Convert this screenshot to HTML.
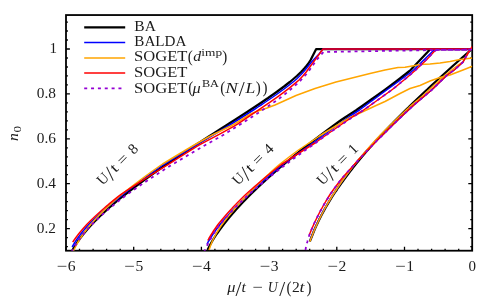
<!DOCTYPE html>
<html><head><meta charset="utf-8"><title>plot</title>
<style>html,body{margin:0;padding:0;background:#fff;}svg{display:block;}</style></head>
<body>
<svg width="500" height="300" viewBox="0 0 500 300">
<rect width="500" height="300" fill="#ffffff"/>
<defs><filter id="gs" x="0" y="0" width="500" height="300" filterUnits="userSpaceOnUse" color-interpolation-filters="sRGB"><feColorMatrix type="saturate" values="0"/></filter><clipPath id="c"><rect x="66.00" y="15.05" width="406.20" height="235.65"/></clipPath></defs>
<path d="M66.0,250.7v-3.9M79.5,250.7v-1.9M93.1,250.7v-1.9M106.6,250.7v-1.9M120.2,250.7v-1.9M133.7,250.7v-3.9M147.2,250.7v-1.9M160.8,250.7v-1.9M174.3,250.7v-1.9M187.9,250.7v-1.9M201.4,250.7v-3.9M214.9,250.7v-1.9M228.5,250.7v-1.9M242.0,250.7v-1.9M255.6,250.7v-1.9M269.1,250.7v-3.9M282.6,250.7v-1.9M296.2,250.7v-1.9M309.7,250.7v-1.9M323.3,250.7v-1.9M336.8,250.7v-3.9M350.3,250.7v-1.9M363.9,250.7v-1.9M377.4,250.7v-1.9M391.0,250.7v-1.9M404.5,250.7v-3.9M418.0,250.7v-1.9M431.6,250.7v-1.9M445.1,250.7v-1.9M458.7,250.7v-1.9M472.2,250.7v-3.9M66.0,246.6h1.9M472.2,246.6h-1.9M66.0,237.6h1.9M472.2,237.6h-1.9M66.0,228.6h3.9M472.2,228.6h-3.9M66.0,219.6h1.9M472.2,219.6h-1.9M66.0,210.6h1.9M472.2,210.6h-1.9M66.0,201.7h1.9M472.2,201.7h-1.9M66.0,192.7h1.9M472.2,192.7h-1.9M66.0,183.7h3.9M472.2,183.7h-3.9M66.0,174.7h1.9M472.2,174.7h-1.9M66.0,165.7h1.9M472.2,165.7h-1.9M66.0,156.8h1.9M472.2,156.8h-1.9M66.0,147.8h1.9M472.2,147.8h-1.9M66.0,138.8h3.9M472.2,138.8h-3.9M66.0,129.8h1.9M472.2,129.8h-1.9M66.0,120.8h1.9M472.2,120.8h-1.9M66.0,111.9h1.9M472.2,111.9h-1.9M66.0,102.9h1.9M472.2,102.9h-1.9M66.0,93.9h3.9M472.2,93.9h-3.9M66.0,84.9h1.9M472.2,84.9h-1.9M66.0,75.9h1.9M472.2,75.9h-1.9M66.0,67.0h1.9M472.2,67.0h-1.9M66.0,58.0h1.9M472.2,58.0h-1.9M66.0,49.0h3.9M472.2,49.0h-3.9M66.0,40.0h1.9M472.2,40.0h-1.9M66.0,31.0h1.9M472.2,31.0h-1.9M66.0,22.1h1.9M472.2,22.1h-1.9" stroke="#000" stroke-width="1.3" fill="none"/>
<rect x="66.00" y="15.05" width="406.20" height="235.65" fill="none" stroke="#000" stroke-width="1.8"/>
<g clip-path="url(#c)">
<path d="M71.6,252.0 L72.6,250.0 L73.7,248.0 L74.9,246.0 L76.2,244.0 L77.5,242.0 L78.9,240.0 L80.3,238.0 L81.9,236.0 L83.4,234.0 L85.1,232.0 L86.8,230.0 L88.5,228.0 L90.3,226.0 L92.2,224.0 L94.1,222.0 L96.1,220.0 L98.1,218.0 L100.2,216.0 L102.3,214.0 L104.5,212.0 L106.7,210.0 L108.9,208.0 L111.2,206.0 L113.5,204.0 L115.9,202.0 L118.3,200.0 L120.7,198.0 L123.2,196.0 L125.7,194.0 L128.3,192.0 L130.9,190.0 L133.5,188.0 L136.1,186.0 L138.8,184.0 L141.5,182.0 L144.2,180.0 L147.0,178.0 L149.8,176.0 L152.6,174.0 L155.4,172.0 L158.3,170.0 L161.2,168.0 L164.1,166.0 L167.0,164.0 L169.9,162.0 L172.9,160.0 L175.9,158.0 L178.9,156.0 L181.9,154.0 L184.9,152.0 L188.0,150.0 L191.0,148.0 L194.1,146.0 L197.2,144.0 L200.3,142.0 L203.4,140.0 L206.5,138.0 L209.6,136.0 L212.8,134.0 L215.9,132.0 L219.0,130.0 L222.1,128.0 L225.3,126.0 L228.4,124.0 L231.5,122.0 L234.7,120.0 L237.8,118.0 L240.9,116.0 L244.0,114.0 L247.1,112.0 L250.1,110.0 L253.2,108.0 L256.2,106.0 L259.2,104.0 L262.2,102.0 L265.1,100.0 L268.1,98.0 L270.9,96.0 L273.8,94.0 L276.6,92.0 L279.3,90.0 L282.0,88.0 L284.7,86.0 L287.2,84.0 L289.8,82.0 L292.2,80.0 L294.5,78.0 L296.8,76.0 L298.9,74.0 L301.0,72.0 L302.9,70.0 L304.7,68.0 L306.4,66.0 L308.0,64.0 L309.3,62.0 L310.6,60.0 L316.2,49.0 L472.2,49.0 M207.5,250.0 L208.5,248.0 L209.5,246.0 L210.6,244.0 L211.7,242.0 L212.9,240.0 L214.1,238.0 L215.4,236.0 L216.7,234.0 L218.1,232.0 L219.5,230.0 L221.0,228.0 L222.5,226.0 L224.0,224.0 L225.6,222.0 L227.2,220.0 L228.8,218.0 L230.5,216.0 L232.2,214.0 L234.0,212.0 L235.7,210.0 L237.5,208.0 L239.4,206.0 L241.2,204.0 L243.1,202.0 L245.1,200.0 L247.0,198.0 L249.0,196.0 L251.0,194.0 L253.1,192.0 L255.2,190.0 L257.2,188.0 L259.4,186.0 L261.5,184.0 L263.7,182.0 L265.9,180.0 L268.1,178.0 L270.3,176.0 L272.6,174.0 L274.9,172.0 L277.2,170.0 L279.5,168.0 L281.9,166.0 L284.3,164.0 L286.7,162.0 L289.1,160.0 L291.5,158.0 L294.0,156.0 L296.5,154.0 L299.0,152.0 L301.5,150.0 L304.0,148.0 L306.6,146.0 L309.2,144.0 L311.7,142.0 L314.3,140.0 L317.0,138.0 L319.6,136.0 L322.2,134.0 L324.9,132.0 L327.6,130.0 L330.3,128.0 L333.0,126.0 L335.7,124.0 L338.4,122.0 L341.2,120.0 L344.2,118.0 L347.3,116.0 L350.4,114.0 L353.5,112.0 L356.5,110.0 L359.3,108.0 L362.2,106.0 L365.0,104.0 L367.8,102.0 L370.6,100.0 L373.4,98.0 L376.3,96.0 L379.1,94.0 L381.9,92.0 L384.7,90.0 L387.4,88.0 L390.1,86.0 L392.7,84.0 L395.4,82.0 L398.0,80.0 L400.6,78.0 L403.1,76.0 L405.7,74.0 L408.2,72.0 L410.6,70.0 L430.0,49.5 L431.0,49.0 L472.2,49.0 M309.9,241.5 L310.6,239.5 L311.4,237.5 L312.2,235.5 L313.0,233.5 L313.8,231.5 L314.6,229.5 L315.5,227.5 L316.4,225.5 L317.4,223.5 L318.3,221.5 L319.3,219.5 L320.3,217.5 L321.3,215.5 L322.4,213.5 L323.5,211.5 L324.6,209.5 L325.7,207.5 L326.9,205.5 L328.1,203.5 L329.3,201.5 L330.5,199.5 L331.7,197.5 L333.0,195.5 L334.3,193.5 L335.6,191.5 L337.0,189.5 L338.3,187.5 L339.7,185.5 L341.1,183.5 L342.6,181.5 L344.0,179.5 L345.5,177.5 L347.0,175.5 L348.5,173.5 L350.0,171.5 L351.6,169.5 L353.1,167.5 L354.7,165.5 L356.3,163.5 L358.0,161.5 L359.6,159.5 L361.3,157.5 L363.0,155.5 L364.7,153.5 L366.4,151.5 L368.2,149.5 L369.9,147.5 L371.7,145.5 L373.5,143.5 L375.3,141.5 L377.1,139.5 L379.0,137.5 L380.8,135.5 L382.7,133.5 L384.6,131.5 L386.5,129.5 L388.4,127.5 L390.3,125.5 L392.3,123.5 L394.2,121.5 L396.2,119.5 L398.2,117.5 L400.2,115.5 L402.2,113.5 L404.2,111.5 L406.2,109.5 L408.3,107.5 L410.3,105.5 L412.4,103.5 L414.5,101.5 L416.6,99.5 L418.7,97.5 L420.8,95.5 L422.9,93.5 L425.0,91.5 L427.2,89.5 L429.3,87.5 L431.4,85.5 L433.6,83.5 L435.8,81.5 L437.9,79.5 L440.1,77.5 L442.3,75.5 L444.5,73.5 L446.7,71.5 L448.9,69.5 L451.1,67.5 L453.3,65.5 L455.6,63.5 L457.8,61.5 L460.1,59.5 L462.3,57.5 L464.6,55.5 L466.8,53.5 L469.1,51.5 L470.9,50.0 L471.6,49.0 L472.2,49.0" fill="none" stroke="#000000" stroke-width="2.25" stroke-linejoin="round"/>
<path d="M72.1,247.0 L73.3,245.0 L74.5,243.0 L75.8,241.0 L77.1,239.0 L78.5,237.0 L80.0,235.0 L81.5,233.0 L83.1,231.0 L84.8,229.0 L86.5,227.0 L88.3,225.0 L90.2,223.0 L92.2,221.0 L94.3,219.0 L96.4,217.0 L98.6,215.0 L100.8,213.0 L103.0,211.0 L105.3,209.0 L107.6,207.0 L110.0,205.0 L112.4,203.0 L114.9,201.0 L117.4,199.0 L119.9,197.0 L122.5,195.0 L125.0,193.0 L127.5,191.0 L130.1,189.0 L132.7,187.0 L135.3,185.0 L137.9,183.0 L140.6,181.0 L143.3,179.0 L146.1,177.0 L148.8,175.0 L151.6,173.0 L154.4,171.0 L157.3,169.0 L160.1,167.0 L163.0,165.0 L166.3,163.0 L169.5,161.0 L172.8,159.0 L176.1,157.0 L179.4,155.0 L182.8,153.0 L186.1,151.0 L189.5,149.0 L192.9,147.0 L196.3,145.0 L199.6,143.0 L203.0,141.0 L206.4,139.0 L209.8,137.0 L213.2,135.0 L216.5,133.0 L219.8,131.0 L223.2,129.0 L226.5,127.0 L229.8,125.0 L233.0,123.0 L236.2,121.0 L239.4,119.0 L242.5,117.0 L245.7,115.0 L248.8,113.0 L251.9,111.0 L255.0,109.0 L258.0,107.0 L261.1,105.0 L264.1,103.0 L267.0,101.0 L270.0,99.0 L272.9,97.0 L275.8,95.0 L278.6,93.0 L281.3,91.0 L284.1,89.0 L286.7,87.0 L289.3,85.0 L291.8,83.0 L294.3,81.0 L296.6,79.0 L298.6,77.0 L300.6,75.0 L302.5,73.0 L304.3,71.0 L305.1,70.0 L311.5,62.0 L319.5,53.5 L323.0,49.0 L472.2,49.0 M207.0,244.0 L208.1,242.0 L209.3,240.0 L210.5,238.0 L211.8,236.0 L213.1,234.0 L214.5,232.0 L215.9,230.0 L217.4,228.0 L218.9,226.0 L220.4,224.0 L222.1,222.0 L223.8,220.0 L225.6,218.0 L227.4,216.0 L229.2,214.0 L231.0,212.0 L232.9,210.0 L234.8,208.0 L236.8,206.0 L238.8,204.0 L240.8,202.0 L242.8,200.0 L244.9,198.0 L247.0,196.0 L249.1,194.0 L251.2,192.0 L253.3,190.0 L255.5,188.0 L257.7,186.0 L259.9,184.0 L262.1,182.0 L264.4,180.0 L266.7,178.0 L269.0,176.0 L271.3,174.0 L273.7,172.0 L276.1,170.0 L278.4,168.0 L280.9,166.0 L283.4,164.0 L286.2,162.0 L288.9,160.0 L291.7,158.0 L294.5,156.0 L297.3,154.0 L300.1,152.0 L302.9,150.0 L305.8,148.0 L308.6,146.0 L311.5,144.0 L314.4,142.0 L317.1,140.0 L319.8,138.0 L322.6,136.0 L325.3,134.0 L328.0,132.0 L330.7,130.0 L333.5,128.0 L336.2,126.0 L339.0,124.0 L341.8,122.0 L344.6,120.0 L347.4,118.0 L350.2,116.0 L353.3,114.0 L356.4,112.0 L359.5,110.0 L362.2,108.0 L364.9,106.0 L367.6,104.0 L370.3,102.0 L373.1,100.0 L375.8,98.0 L378.5,96.0 L381.2,94.0 L383.9,92.0 L386.6,90.0 L389.4,88.0 L392.2,86.0 L394.9,84.0 L397.7,82.0 L400.4,80.0 L403.1,78.0 L405.8,76.0 L408.5,74.0 L411.1,72.0 L413.6,70.0 L434.0,50.0 L436.5,49.0 L472.2,49.0 M310.3,240.0 L311.1,238.0 L311.8,236.0 L312.6,234.0 L313.4,232.0 L314.2,230.0 L315.0,228.0 L315.9,226.0 L316.8,224.0 L317.8,222.0 L318.7,220.0 L319.7,218.0 L320.7,216.0 L321.7,214.0 L322.8,212.0 L323.8,210.0 L325.0,208.0 L326.1,206.0 L327.2,204.0 L328.4,202.0 L329.6,200.0 L330.8,198.0 L332.1,196.0 L333.3,194.0 L334.6,192.0 L335.9,190.0 L337.3,188.0 L338.6,186.0 L340.0,184.0 L341.4,182.0 L342.8,180.0 L344.3,178.0 L345.7,176.0 L347.2,174.0 L348.7,172.0 L350.2,170.0 L351.8,168.0 L353.3,166.0 L355.0,164.0 L356.7,162.0 L358.4,160.0 L360.1,158.0 L361.9,156.0 L363.6,154.0 L365.4,152.0 L367.2,150.0 L369.2,148.0 L371.2,146.0 L373.2,144.0 L375.3,142.0 L377.4,140.0 L379.4,138.0 L381.5,136.0 L383.6,134.0 L385.6,132.0 L387.6,130.0 L389.6,128.0 L391.6,126.0 L393.7,124.0 L395.8,122.0 L397.9,120.0 L399.9,118.0 L402.1,116.0 L404.2,114.0 L406.3,112.0 L408.5,110.0 L410.6,108.0 L412.8,106.0 L415.0,104.0 L417.4,102.0 L419.7,100.0 L422.1,98.0 L424.5,96.0 L426.8,94.0 L429.2,92.0 L431.6,90.0 L433.7,88.0 L435.7,86.0 L437.8,84.0 L439.9,82.0 L441.9,80.0 L444.0,78.0 L446.1,76.0 L448.6,74.0 L451.4,72.0 L454.2,70.0 L456.4,68.0 L458.6,66.0 L460.8,64.0 L463.0,62.0 L466.3,56.0 L469.5,50.5 L471.5,49.0 L472.2,49.0" fill="none" stroke="#0000ff" stroke-width="1.5" stroke-linejoin="round"/>
<path d="M73.1,252.0 L73.9,250.0 L74.9,248.0 L75.9,246.0 L76.9,244.0 L78.1,242.0 L79.3,240.0 L80.5,238.0 L81.9,236.0 L83.3,234.0 L84.7,232.0 L86.2,230.0 L87.8,228.0 L89.4,226.0 L91.1,224.0 L92.9,222.0 L94.7,220.0 L96.5,218.0 L98.4,216.0 L100.4,214.0 L102.4,212.0 L104.4,210.0 L106.5,208.0 L108.6,206.0 L110.8,204.0 L113.0,202.0 L115.2,200.0 L117.5,198.0 L119.8,196.0 L122.2,194.0 L124.7,192.0 L127.2,190.0 L129.7,188.0 L132.3,186.0 L134.9,184.0 L137.6,182.0 L140.2,180.0 L142.9,178.0 L145.6,176.0 L148.4,174.0 L151.1,172.0 L153.9,170.0 L156.8,168.0 L159.6,166.0 L162.6,164.0 L165.9,162.0 L169.2,160.0 L172.5,158.0 L175.8,156.0 L179.1,154.0 L182.5,152.0 L185.8,150.0 L189.2,148.0 L192.6,146.0 L196.0,144.0 L199.6,142.0 L203.2,140.0 L206.8,138.0 L210.4,136.0 L214.3,134.0 L218.4,132.0 L222.5,130.0 L226.6,128.0 L230.8,126.0 L234.5,124.0 L237.7,122.0 L240.9,120.0 L244.1,118.0 L247.3,116.0 L250.5,114.0 L258.0,111.0 L267.0,108.0 L275.0,105.0 L285.0,100.5 L296.0,95.5 L315.0,88.5 L336.0,82.0 L350.0,78.5 L370.0,73.5 L385.0,70.0 L398.0,67.5 L405.0,67.3 L415.0,65.5 L420.0,64.5 L430.0,64.0 L440.0,63.0 L450.0,61.5 L460.0,59.5 L472.4,58.0 M209.0,250.0 L209.7,248.0 L210.4,246.0 L211.2,244.0 L212.0,242.0 L212.9,240.0 L213.9,238.0 L215.0,236.0 L216.1,234.0 L217.2,232.0 L218.4,230.0 L219.7,228.0 L221.0,226.0 L222.4,224.0 L223.9,222.0 L225.4,220.0 L227.0,218.0 L228.6,216.0 L230.3,214.0 L232.0,212.0 L233.7,210.0 L235.4,208.0 L237.2,206.0 L239.0,204.0 L240.9,202.0 L242.7,200.0 L244.6,198.0 L246.5,196.0 L248.5,194.0 L250.4,192.0 L252.3,190.0 L254.3,188.0 L256.3,186.0 L258.3,184.0 L260.4,182.0 L262.4,180.0 L264.5,178.0 L266.6,176.0 L268.8,174.0 L270.9,172.0 L273.1,170.0 L275.3,168.0 L277.6,166.0 L280.0,164.0 L282.6,162.0 L285.2,160.0 L287.8,158.0 L290.4,156.0 L293.1,154.0 L295.8,152.0 L298.5,150.0 L301.5,148.0 L304.5,146.0 L307.5,144.0 L310.6,142.0 L313.6,140.0 L316.6,138.0 L319.5,136.0 L322.6,134.0 L325.8,132.0 L329.2,130.0 L332.5,128.0 L335.8,126.0 L339.2,124.0 L342.5,122.0 L345.9,120.0 L349.3,118.0 L350.1,117.5 L366.5,110.0 L375.0,106.0 L385.0,101.5 L400.0,93.5 L410.0,88.5 L420.0,85.5 L430.0,81.0 L440.0,77.5 L450.0,75.0 L463.0,70.0 L472.4,66.3 M309.9,241.5 L310.6,239.5 L311.4,237.5 L312.2,235.5 L313.0,233.5 L313.8,231.5 L314.6,229.5 L315.5,227.5 L316.4,225.5 L317.3,223.5 L318.3,221.5 L319.2,219.5 L320.2,217.5 L321.2,215.5 L322.2,213.5 L323.3,211.5 L324.3,209.5 L325.4,207.5 L326.6,205.5 L327.7,203.5 L328.9,201.5 L330.1,199.5 L331.3,197.5 L332.5,195.5 L333.8,193.5 L335.1,191.5 L336.4,189.5 L337.7,187.5 L339.1,185.5 L340.4,183.5 L341.8,181.5 L343.2,179.5 L344.7,177.5 L346.1,175.5 L347.6,173.5 L349.1,171.5 L350.6,169.5 L352.2,167.5 L353.7,165.5 L355.3,163.5 L357.0,161.5 L358.6,159.5 L360.3,157.5 L362.0,155.5 L363.7,153.5 L365.4,151.5 L367.2,149.5 L368.9,147.5 L370.7,145.5 L372.5,143.5 L374.3,141.5 L376.1,139.5 L378.0,137.5 L379.8,135.5 L381.8,133.5 L383.8,131.5 L385.8,129.5 L387.9,127.5 L390.0,125.5 L392.0,123.5 L394.1,121.5 L396.2,119.5 L398.3,117.5 L400.4,115.5 L402.5,113.5 L404.6,111.5 L406.7,109.5 L408.9,107.5 L411.0,105.5 L413.4,103.5 L415.7,101.5 L418.2,99.5 L420.6,97.5 L423.0,95.5 L425.2,93.5 L427.3,91.5 L429.5,89.5 L431.6,87.5 L433.7,85.5 L435.9,83.5 L438.1,81.5 L440.2,79.5 L442.4,77.5 L444.6,75.5 L447.1,73.5 L449.7,71.5 L452.3,69.5 L454.8,67.5 L457.6,65.5 L460.7,63.5 L463.0,62.0 L466.3,56.0 L469.5,50.5 L471.5,49.0 L472.2,49.0" fill="none" stroke="#ffa500" stroke-width="1.5" stroke-linejoin="round"/>
<path d="M72.7,242.2 L74.0,240.2 L75.4,238.2 L76.9,236.2 L78.4,234.2 L80.0,232.2 L81.7,230.2 L83.4,228.2 L85.2,226.2 L87.0,224.2 L89.0,222.2 L91.0,220.2 L93.1,218.2 L95.2,216.2 L97.4,214.2 L99.6,212.2 L101.8,210.2 L104.1,208.2 L106.5,206.2 L108.8,204.2 L111.3,202.2 L113.7,200.2 L116.2,198.2 L118.7,196.2 L121.4,194.2 L124.4,192.2 L127.4,190.2 L130.4,188.2 L133.5,186.2 L136.6,184.2 L139.7,182.2 L142.8,180.2 L146.0,178.2 L149.2,176.2 L152.4,174.2 L155.6,172.2 L158.9,170.2 L162.2,168.2 L165.5,166.2 L168.8,164.2 L171.9,162.2 L175.0,160.2 L178.1,158.2 L181.3,156.2 L184.5,154.2 L187.7,152.2 L190.9,150.2 L194.1,148.2 L197.3,146.2 L200.8,144.2 L204.5,142.2 L208.3,140.2 L212.1,138.2 L215.9,136.2 L219.6,134.2 L223.3,132.2 L226.9,130.2 L230.5,128.2 L234.2,126.2 L237.5,124.2 L240.5,122.2 L243.5,120.2 L246.4,118.2 L249.4,116.2 L252.3,114.2 L255.3,112.2 L258.3,110.2 L261.2,108.2 L264.2,106.2 L267.1,104.2 L270.1,102.2 L272.9,100.2 L275.8,98.2 L278.6,96.2 L281.3,94.2 L284.0,92.2 L286.6,90.2 L289.2,88.2 L291.7,86.2 L294.1,84.2 L296.5,82.2 L298.8,80.2 L300.7,78.2 L302.6,76.2 L304.3,74.2 L306.0,72.2 L307.5,70.2 L307.6,70.0 L323.0,49.0 L472.2,49.0 M207.8,240.5 L208.9,238.5 L210.1,236.5 L211.3,234.5 L212.6,232.5 L213.8,230.5 L215.2,228.5 L216.6,226.5 L218.0,224.5 L219.6,222.5 L221.3,220.5 L223.0,218.5 L224.7,216.5 L226.4,214.5 L228.2,212.5 L230.0,210.5 L231.9,208.5 L233.7,206.5 L235.7,204.5 L237.6,202.5 L239.6,200.5 L241.6,198.5 L243.6,196.5 L245.7,194.5 L247.9,192.5 L250.1,190.5 L252.4,188.5 L254.6,186.5 L257.0,184.5 L259.3,182.5 L261.6,180.5 L264.0,178.5 L266.4,176.5 L268.9,174.5 L271.3,172.5 L273.8,170.5 L276.3,168.5 L278.8,166.5 L281.4,164.5 L284.5,162.5 L287.5,160.5 L290.6,158.5 L293.7,156.5 L296.8,154.5 L299.9,152.5 L303.1,150.5 L306.2,148.5 L309.4,146.5 L312.6,144.5 L315.7,142.5 L318.5,140.5 L321.3,138.5 L324.1,136.5 L326.9,134.5 L329.8,132.5 L332.6,130.5 L335.5,128.5 L338.4,126.5 L341.3,124.5 L344.2,122.5 L347.2,120.5 L350.1,118.5 L353.1,116.5 L356.4,114.5 L359.6,112.5 L362.9,110.5 L365.8,108.5 L368.6,106.5 L371.4,104.5 L374.2,102.5 L377.0,100.5 L379.8,98.5 L382.6,96.5 L385.4,94.5 L388.2,92.5 L391.0,90.5 L393.6,88.5 L396.1,86.5 L398.5,84.5 L400.9,82.5 L403.4,80.5 L405.8,78.5 L408.2,76.5 L410.5,74.5 L412.8,72.5 L415.1,70.5 L415.6,70.0 L426.3,60.0 L436.5,49.0 L472.2,49.0 M309.3,235.0 L310.1,233.0 L310.9,231.0 L311.7,229.0 L312.6,227.0 L313.5,225.0 L314.4,223.0 L315.3,221.0 L316.3,219.0 L317.3,217.0 L318.3,215.0 L319.3,213.0 L320.4,211.0 L321.5,209.0 L322.6,207.0 L323.7,205.0 L324.9,203.0 L326.0,201.0 L327.3,199.0 L328.5,197.0 L329.7,195.0 L331.1,193.0 L332.5,191.0 L333.9,189.0 L335.4,187.0 L336.9,185.0 L338.4,183.0 L339.9,181.0 L341.5,179.0 L343.2,177.0 L344.9,175.0 L346.7,173.0 L348.5,171.0 L350.3,169.0 L352.1,167.0 L353.9,165.0 L355.7,163.0 L357.5,161.0 L359.3,159.0 L361.2,157.0 L363.0,155.0 L364.9,153.0 L366.8,151.0 L368.7,149.0 L370.7,147.0 L372.6,145.0 L374.6,143.0 L376.5,141.0 L378.5,139.0 L380.6,137.0 L382.6,135.0 L384.6,133.0 L386.6,131.0 L388.6,129.0 L390.6,127.0 L392.7,125.0 L394.7,123.0 L396.8,121.0 L398.9,119.0 L401.0,117.0 L403.1,115.0 L405.2,113.0 L407.4,111.0 L409.5,109.0 L411.7,107.0 L413.9,105.0 L416.2,103.0 L418.5,101.0 L420.9,99.0 L423.3,97.0 L425.6,95.0 L428.0,93.0 L430.4,91.0 L432.6,89.0 L434.7,87.0 L436.8,85.0 L438.8,83.0 L440.9,81.0 L443.0,79.0 L445.1,77.0 L447.2,75.0 L450.0,73.0 L452.8,71.0 L455.3,69.0 L457.5,67.0 L459.7,65.0 L461.9,63.0 L463.0,62.0 L466.3,56.0 L469.5,50.5 L472.4,46.5" fill="none" stroke="#ff0000" stroke-width="1.5" stroke-linejoin="round"/>
<path d="M71.6,252.0 L72.6,250.0 L73.7,248.0 L74.9,246.0 L76.2,244.0 L77.5,242.0 L78.9,240.0 L80.3,238.0 L81.9,236.0 L83.4,234.0 L85.1,232.0 L86.8,230.0 L88.5,228.0 L90.3,226.0 L92.3,224.0 L94.3,222.0 L96.4,220.0 L98.6,218.0 L100.8,216.0 L103.0,214.0 L105.3,212.0 L107.7,210.0 L110.0,208.0 L112.5,206.0 L114.9,204.0 L117.4,202.0 L120.0,200.0 L122.5,198.0 L125.1,196.0 L127.9,194.0 L130.7,192.0 L133.5,190.0 L136.4,188.0 L139.3,186.0 L142.3,184.0 L145.2,182.0 L148.2,180.0 L151.2,178.0 L154.3,176.0 L157.4,174.0 L160.5,172.0 L163.6,170.0 L166.8,168.0 L169.9,166.0 L173.2,164.0 L176.5,162.0 L179.9,160.0 L183.2,158.0 L186.6,156.0 L190.0,154.0 L193.4,152.0 L196.8,150.0 L200.3,148.0 L203.7,146.0 L207.2,144.0 L210.8,142.0 L214.3,140.0 L217.9,138.0 L221.4,136.0 L224.8,134.0 L228.0,132.0 L231.3,130.0 L234.5,128.0 L237.7,126.0 L240.9,124.0 L244.0,122.0 L247.2,120.0 L250.3,118.0 L253.4,116.0 L256.5,114.0 L259.6,112.0 L262.5,110.0 L265.5,108.0 L268.5,106.0 L271.4,104.0 L274.3,102.0 L277.1,100.0 L279.9,98.0 L282.5,96.0 L285.1,94.0 L287.5,92.0 L289.9,90.0 L292.3,88.0 L294.6,86.0 L296.8,84.0 L298.9,82.0 L301.0,80.0 L302.9,78.0 L304.7,76.0 L306.5,74.0 L308.1,72.0 L309.6,70.0 L311.0,68.0 L311.6,67.0 L317.0,59.5 L323.5,52.0 L380.0,51.0 L436.0,50.0 L472.2,49.7 M204.1,252.0 L205.0,250.0 L205.9,248.0 L206.8,246.0 L207.8,244.0 L208.8,242.0 L209.9,240.0 L211.1,238.0 L212.3,236.0 L213.5,234.0 L214.8,232.0 L216.1,230.0 L217.5,228.0 L218.9,226.0 L220.4,224.0 L222.1,222.0 L223.8,220.0 L225.6,218.0 L227.4,216.0 L229.2,214.0 L231.1,212.0 L233.0,210.0 L234.9,208.0 L236.8,206.0 L238.8,204.0 L240.9,202.0 L242.9,200.0 L245.0,198.0 L247.1,196.0 L249.3,194.0 L251.6,192.0 L253.9,190.0 L256.3,188.0 L258.6,186.0 L261.0,184.0 L263.5,182.0 L265.9,180.0 L268.4,178.0 L270.9,176.0 L273.4,174.0 L276.0,172.0 L278.6,170.0 L281.2,168.0 L283.8,166.0 L286.4,164.0 L289.1,162.0 L291.8,160.0 L294.5,158.0 L297.3,156.0 L300.1,154.0 L302.8,152.0 L305.6,150.0 L308.5,148.0 L311.3,146.0 L314.2,144.0 L316.9,142.0 L319.6,140.0 L322.3,138.0 L325.1,136.0 L327.8,134.0 L330.7,132.0 L333.6,130.0 L336.6,128.0 L339.5,126.0 L342.4,124.0 L345.4,122.0 L348.4,120.0 L351.4,118.0 L354.5,116.0 L357.5,114.0 L360.6,112.0 L363.7,110.0 L366.5,108.0 L369.3,106.0 L372.1,104.0 L374.9,102.0 L377.7,100.0 L380.5,98.0 L383.3,96.0 L386.1,94.0 L388.9,92.0 L391.7,90.0 L394.2,88.0 L396.7,86.0 L399.1,84.0 L401.6,82.0 L404.0,80.0 L406.4,78.0 L408.7,76.0 L411.1,74.0 L413.4,72.0 L415.6,70.0 L436.0,50.0 L472.2,49.7 M305.5,250.0 L305.8,248.0 L306.3,246.0 L306.7,244.0 L307.3,242.0 L307.8,240.0 L308.4,238.0 L309.0,236.0 L309.7,234.0 L310.5,232.0 L311.3,230.0 L312.2,228.0 L313.0,226.0 L313.9,224.0 L314.8,222.0 L315.8,220.0 L316.8,218.0 L317.8,216.0 L318.8,214.0 L319.8,212.0 L320.9,210.0 L322.0,208.0 L323.1,206.0 L324.3,204.0 L325.5,202.0 L326.7,200.0 L327.9,198.0 L329.1,196.0 L330.4,194.0 L331.8,192.0 L333.2,190.0 L334.7,188.0 L336.1,186.0 L337.6,184.0 L339.1,182.0 L340.6,180.0 L342.3,178.0 L344.1,176.0 L345.8,174.0 L347.6,172.0 L349.4,170.0 L351.2,168.0 L353.0,166.0 L354.8,164.0 L356.6,162.0 L358.4,160.0 L360.3,158.0 L362.1,156.0 L364.0,154.0 L365.9,152.0 L367.8,150.0 L369.7,148.0 L371.6,146.0 L373.6,144.0 L375.6,142.0 L377.5,140.0 L379.5,138.0 L381.6,136.0 L383.6,134.0 L385.6,132.0 L387.6,130.0 L389.6,128.0 L391.6,126.0 L393.7,124.0 L395.8,122.0 L397.9,120.0 L399.9,118.0 L402.1,116.0 L404.2,114.0 L406.3,112.0 L408.5,110.0 L410.6,108.0 L412.8,106.0 L415.0,104.0 L417.4,102.0 L419.7,100.0 L422.1,98.0 L424.5,96.0 L426.8,94.0 L429.2,92.0 L431.6,90.0 L433.7,88.0 L435.7,86.0 L437.8,84.0 L439.9,82.0 L441.9,80.0 L444.0,78.0 L446.1,76.0 L448.6,74.0 L451.4,72.0 L454.2,70.0 L456.4,68.0 L458.6,66.0 L460.8,64.0 L463.0,62.0 L466.3,56.0 L468.5,52.3" fill="none" stroke="#9400d3" stroke-width="1.8" stroke-linejoin="round" stroke-dasharray="3 3.85"/>
</g>
<g font-family="Liberation Serif, serif" font-size="15" fill="#1c1c1c" filter="url(#gs)">
<text x="56.4" y="270.6" textLength="10.6" lengthAdjust="spacingAndGlyphs">−</text>
<text x="67.7" y="270.6" textLength="7.8" lengthAdjust="spacingAndGlyphs">6</text>
<text x="124.1" y="270.6" textLength="10.6" lengthAdjust="spacingAndGlyphs">−</text>
<text x="135.4" y="270.6" textLength="7.8" lengthAdjust="spacingAndGlyphs">5</text>
<text x="191.8" y="270.6" textLength="10.6" lengthAdjust="spacingAndGlyphs">−</text>
<text x="203.1" y="270.6" textLength="7.8" lengthAdjust="spacingAndGlyphs">4</text>
<text x="259.5" y="270.6" textLength="10.6" lengthAdjust="spacingAndGlyphs">−</text>
<text x="270.8" y="270.6" textLength="7.8" lengthAdjust="spacingAndGlyphs">3</text>
<text x="327.2" y="270.6" textLength="10.6" lengthAdjust="spacingAndGlyphs">−</text>
<text x="338.5" y="270.6" textLength="7.8" lengthAdjust="spacingAndGlyphs">2</text>
<text x="394.9" y="270.6" textLength="10.6" lengthAdjust="spacingAndGlyphs">−</text>
<text x="406.2" y="270.6" textLength="7.8" lengthAdjust="spacingAndGlyphs">1</text>
<text x="472.2" y="270.6" text-anchor="middle">0</text>
<text x="36.8" y="232.9" textLength="19.2" lengthAdjust="spacingAndGlyphs">0.2</text>
<text x="36.8" y="188.0" textLength="19.2" lengthAdjust="spacingAndGlyphs">0.4</text>
<text x="36.8" y="143.1" textLength="19.2" lengthAdjust="spacingAndGlyphs">0.6</text>
<text x="36.8" y="98.2" textLength="19.2" lengthAdjust="spacingAndGlyphs">0.8</text>
<text x="49.6" y="53.3">1</text>
<text x="134.3" y="30.9" textLength="21.6" lengthAdjust="spacingAndGlyphs">BA</text>
<text x="134.3" y="46.1" textLength="52.2" lengthAdjust="spacingAndGlyphs">BALDA</text>
<text x="134.0" y="61.4" textLength="53.4" lengthAdjust="spacingAndGlyphs">SOGET</text>
<text x="134.0" y="76.9" textLength="53.4" lengthAdjust="spacingAndGlyphs">SOGET</text>
<text x="134.0" y="92.5" textLength="53.4" lengthAdjust="spacingAndGlyphs">SOGET</text>
<text x="187.7" y="62.0" textLength="5.0" lengthAdjust="spacingAndGlyphs" font-size="17.3">(</text>
<text x="193.3" y="61.4" textLength="7.9" lengthAdjust="spacingAndGlyphs" font-style="italic">d</text>
<text x="201.3" y="56.1" textLength="20.8" lengthAdjust="spacingAndGlyphs" font-size="10.5">imp</text>
<text x="222.3" y="62.0" textLength="5.0" lengthAdjust="spacingAndGlyphs" font-size="17.3">)</text>
<text x="188.3" y="93.1" textLength="5.0" lengthAdjust="spacingAndGlyphs" font-size="17.3">(</text>
<text x="192.6" y="92.5" textLength="8.2" lengthAdjust="spacingAndGlyphs" font-style="italic">μ</text>
<text x="201.9" y="87.2" textLength="17.0" lengthAdjust="spacingAndGlyphs" font-size="10.5">BA</text>
<text x="220.2" y="93.1" textLength="5.0" lengthAdjust="spacingAndGlyphs" font-size="17.3">(</text>
<text x="225.3" y="92.5" textLength="12.6" lengthAdjust="spacingAndGlyphs" font-style="italic">N</text>
<text x="238.7" y="95.9" font-size="21.4">/</text>
<text x="245.4" y="92.5" textLength="9.8" lengthAdjust="spacingAndGlyphs" font-style="italic">L</text>
<text x="255.8" y="93.1" textLength="5.0" lengthAdjust="spacingAndGlyphs" font-size="17.3">)</text>
<text x="262.5" y="93.1" textLength="5.0" lengthAdjust="spacingAndGlyphs" font-size="17.3">)</text>
<text x="227.2" y="292.4" textLength="8.2" lengthAdjust="spacingAndGlyphs" font-style="italic">μ</text>
<text x="235.6" y="295.8" font-size="21.4">/</text>
<text x="241.4" y="292.4" textLength="4.4" lengthAdjust="spacingAndGlyphs" font-style="italic">t</text>
<text x="252.3" y="292.4" textLength="10.4" lengthAdjust="spacingAndGlyphs">−</text>
<text x="267.8" y="292.4" textLength="10.0" lengthAdjust="spacingAndGlyphs" font-style="italic">U</text>
<text x="279.3" y="295.8" font-size="21.4">/</text>
<text x="286.6" y="293.0" textLength="5.0" lengthAdjust="spacingAndGlyphs" font-size="17.3">(</text>
<text x="291.9" y="292.4" textLength="7.8" lengthAdjust="spacingAndGlyphs">2</text>
<text x="299.4" y="292.4" textLength="5.0" lengthAdjust="spacingAndGlyphs" font-style="italic">t</text>
<text x="306.4" y="293.0" textLength="5.0" lengthAdjust="spacingAndGlyphs" font-size="17.3">)</text>
<g transform="translate(17.5,141) rotate(-90)"><text x="0.0" y="0.0" textLength="7.8" lengthAdjust="spacingAndGlyphs" font-style="italic">n</text><text x="8.4" y="3.3" textLength="6.6" lengthAdjust="spacingAndGlyphs" font-size="10.5">0</text></g>
<g transform="translate(121.0,167.7) rotate(-45)"><text x="-26.0" y="0.0" textLength="10.6" lengthAdjust="spacingAndGlyphs">U</text><text x="-15.2" y="3.4" font-size="21.4">/</text><text x="-7.9" y="0.0" textLength="5.4" lengthAdjust="spacingAndGlyphs">t</text><text x="2.0" y="0.0" textLength="10.0" lengthAdjust="spacingAndGlyphs">=</text><text x="18.0" y="0.0" textLength="7.6" lengthAdjust="spacingAndGlyphs">8</text></g>
<g transform="translate(256.5,167.7) rotate(-45)"><text x="-26.0" y="0.0" textLength="10.6" lengthAdjust="spacingAndGlyphs">U</text><text x="-15.2" y="3.4" font-size="21.4">/</text><text x="-7.9" y="0.0" textLength="5.4" lengthAdjust="spacingAndGlyphs">t</text><text x="2.0" y="0.0" textLength="10.0" lengthAdjust="spacingAndGlyphs">=</text><text x="18.0" y="0.0" textLength="7.6" lengthAdjust="spacingAndGlyphs">4</text></g>
<g transform="translate(341.0,167.7) rotate(-45)"><text x="-26.0" y="0.0" textLength="10.6" lengthAdjust="spacingAndGlyphs">U</text><text x="-15.2" y="3.4" font-size="21.4">/</text><text x="-7.9" y="0.0" textLength="5.4" lengthAdjust="spacingAndGlyphs">t</text><text x="2.0" y="0.0" textLength="10.0" lengthAdjust="spacingAndGlyphs">=</text><text x="18.0" y="0.0" textLength="7.6" lengthAdjust="spacingAndGlyphs">1</text></g>
</g>
<path d="M84.2,27.3H125.2" stroke="#000000" stroke-width="2.25" fill="none"/>
<path d="M84.2,42.6H125.2" stroke="#0000ff" stroke-width="1.5" fill="none"/>
<path d="M84.2,57.9H125.2" stroke="#ffa500" stroke-width="1.5" fill="none"/>
<path d="M84.2,73.1H125.2" stroke="#ff0000" stroke-width="1.5" fill="none"/>
<path d="M84.2,88.4H125.2" stroke="#9400d3" stroke-width="1.8" fill="none" stroke-dasharray="3 3.85"/>
</svg>
</body></html>
